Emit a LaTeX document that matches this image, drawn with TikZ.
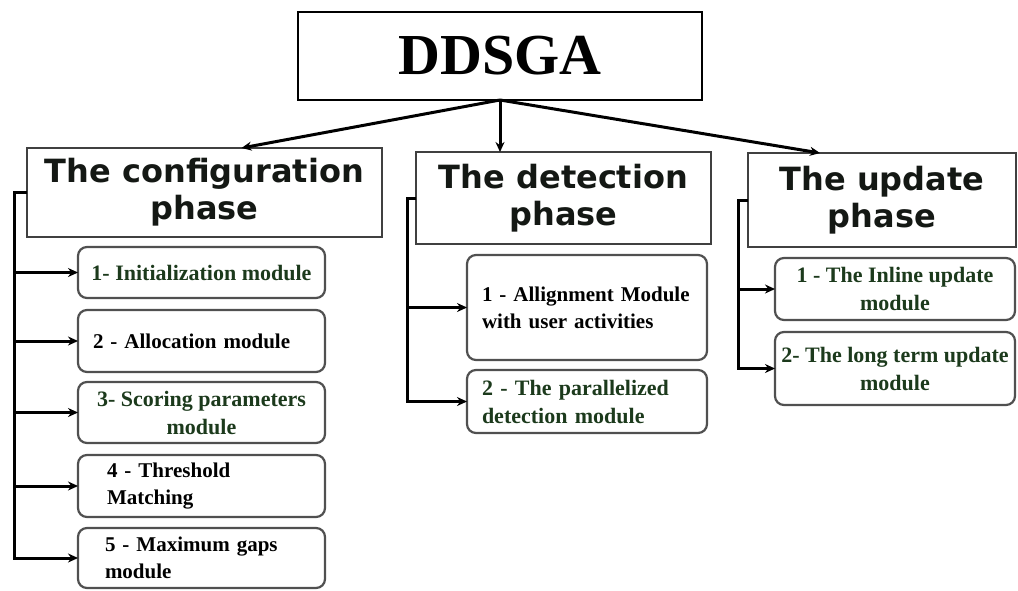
\documentclass[tikz,border=0pt]{standalone}
\usepackage{fontspec}
\setmainfont{Liberation Serif}
\newfontfamily\hdfont{DejaVu Sans}
\usetikzlibrary{arrows.meta,calc}
\definecolor{dkgreen}{RGB}{28,58,28}
\definecolor{hdtext}{RGB}{20,24,20}
\definecolor{subborder}{RGB}{80,80,80}
\begin{document}
\begin{tikzpicture}[x=1pt,y=-1pt,
 topbox/.style={draw=black, line width=1.6pt, anchor=north west, inner sep=0pt, outer sep=0pt, font=\bfseries\fontsize{58}{60}\selectfont},
 phasebox/.style={draw=black!75, line width=1.6pt, anchor=north west, inner sep=0pt, outer sep=0pt, align=center, font=\hdfont\bfseries\fontsize{32}{37}\selectfont, text=hdtext},
 subbox/.style={draw=subborder, line width=2.2pt, rounded corners=9pt, anchor=north west, inner sep=0pt, outer sep=0pt, font=\bfseries\fontsize{21}{27}\selectfont},
 greentxt/.style={text=dkgreen, font=\bfseries\fontsize{22}{28}\selectfont},
 conn/.style={line width=3pt, line join=miter, -{Stealth[length=10pt,width=9pt]}}]
\fill[white] (0,0) rectangle (1018,590);
\useasboundingbox (0,0) rectangle (1018,590);

% top
\node[topbox, minimum width=404pt, minimum height=88pt] (top) at (298,12) {DDSGA};

% phases
\node[phasebox, minimum width=355pt, minimum height=89pt] (config) at (27,148) {The configuration\\phase};
\node[phasebox, minimum width=295pt, minimum height=92pt] (detect) at (416,152) {The detection\\phase};
\node[phasebox, minimum width=268pt, minimum height=94pt] (update) at (748,153) {The update\\phase};

% configuration modules
\node[subbox, greentxt, minimum width=247pt, minimum height=51pt, align=center] (c1) at (78,247) {1- Initialization module};
\node[subbox, minimum width=247pt, minimum height=62pt, inner xsep=15pt, text width=217pt, align=left] (c2) at (78,310) {2 - Allocation module};
\node[subbox, greentxt, minimum width=247pt, minimum height=61pt, align=center] (c3) at (78,382) {3- Scoring parameters\\module};
\node[subbox, minimum width=247pt, minimum height=62pt, inner xsep=29pt, text width=189pt, align=left] (c4) at (78,455) {4 - Threshold\\Matching};
\node[subbox, minimum width=247pt, minimum height=60pt, inner xsep=27pt, text width=193pt, align=left] (c5) at (78,528) {5 - Maximum gaps\\module};

% detection modules
\node[subbox, minimum width=240pt, minimum height=105pt, inner xsep=15pt, text width=210pt, align=left] (d1) at (467,255) {1 - Allignment Module\\with user activities};
\node[subbox, greentxt, minimum width=240pt, minimum height=63pt, inner xsep=15pt, text width=210pt, align=left] (d2) at (467,370) {2 - The parallelized\\detection module};

% update modules
\node[subbox, greentxt, minimum width=240pt, minimum height=62pt, align=center] (u1) at (775,258) {1 - The Inline update\\module};
\node[subbox, greentxt, minimum width=240pt, minimum height=73pt, align=center] (u2) at (775,332) {2- The long term update\\module};

% top connectors
\draw[conn] (top.south) -- ([xshift=37pt]config.north);
\draw[conn] (top.south) -- (top.south |- detect.north);
\draw[conn] (top.south) -- ([xshift=-62pt]update.north);

% configuration tree
\coordinate (cl) at (14,0);
\draw[conn] (config.west) -- (config.west -| cl) |- (c5.west);
\draw[conn] (cl |- c1.west) -- (c1.west);
\draw[conn] (cl |- c2.west) -- (c2.west);
\draw[conn] (cl |- c3.west) -- (c3.west);
\draw[conn] (cl |- c4.west) -- (c4.west);

% detection tree
\coordinate (cd) at (407,0);
\draw[conn] (detect.west) -- (detect.west -| cd) |- (d2.west);
\draw[conn] (cd |- d1.west) -- (d1.west);

% update tree
\coordinate (cu) at (738,0);
\draw[conn] (update.west) -- (update.west -| cu) |- (u2.west);
\draw[conn] (cu |- u1.west) -- (u1.west);
\end{tikzpicture}
\end{document}
